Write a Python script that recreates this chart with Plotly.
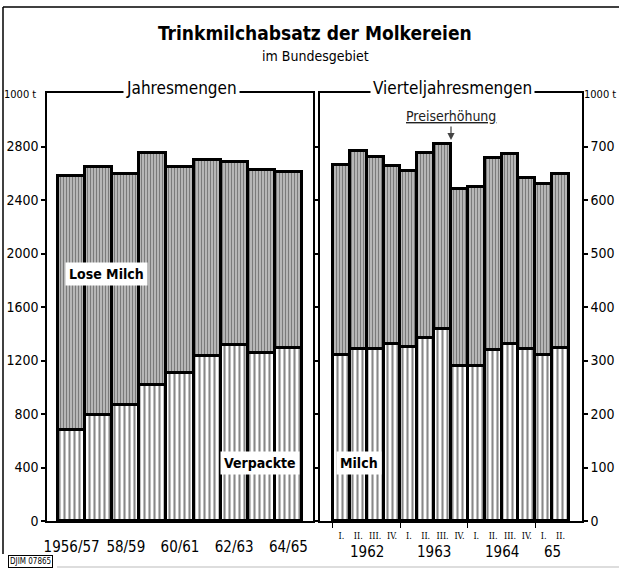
import plotly.graph_objects as go

# ---------------- data ----------------
years = ["1956/57", "1957/58", "1958/59", "1959/60", "1960/61",
         "1961/62", "1962/63", "1963/64", "1964/65"]
year_ticktext = ["1956/57", "58/59", "60/61", "62/63", "64/65"]
annual_packed = [680, 795, 865, 1020, 1110, 1235, 1315, 1255, 1290]
annual_loose = [1900, 1855, 1730, 1730, 1535, 1465, 1370, 1370, 1320]

quarters = ["I.", "II.", "III.", "IV.", "I.", "II.", "III.", "IV.",
            "I.", "II.", "III.", "IV.", "I.", "II."]
quarter_years = ["1962", "1963", "1964", "65"]
quarterly_packed = [311, 322, 322, 331, 326, 342, 358, 289, 289, 319, 330, 321, 310, 324]
quarterly_loose = [355, 369, 358, 333, 329, 346, 346, 332, 335, 360, 356, 320, 319, 325]

left_ticks = [0, 400, 800, 1200, 1600, 2000, 2400, 2800]
right_ticks = [0, 100, 200, 300, 400, 500, 600, 700]

FONT = "DejaVu Sans Condensed, DejaVu Sans, sans-serif"
W, H = 619, 569


def px(x):
    return x / W


def py(y):
    return 1 - y / H


packed_pattern = dict(shape="|", size=5, solidity=0.42, fgcolor="#111", bgcolor="white")
loose_pattern = dict(shape="|", size=3, solidity=0.36, fgcolor="#3c3c3c", bgcolor="#b8b8b8")
outline = dict(color="black", width=3)

xa = list(range(len(years)))
xq = list(range(len(quarters)))

fig = go.Figure()
fig.add_bar(x=xa, y=annual_packed, xaxis="x", yaxis="y",
            marker=dict(pattern=packed_pattern, line=outline, color="white"),
            name="Verpackte Milch")
fig.add_bar(x=xa, y=annual_loose, xaxis="x", yaxis="y",
            marker=dict(pattern=loose_pattern, line=outline, color="#b8b8b8"),
            name="Lose Milch")
fig.add_bar(x=xq, y=quarterly_packed, xaxis="x2", yaxis="y2",
            marker=dict(pattern=packed_pattern, line=outline, color="white"),
            name="Verpackte Milch")
fig.add_bar(x=xq, y=quarterly_loose, xaxis="x2", yaxis="y2",
            marker=dict(pattern=loose_pattern, line=outline, color="#b8b8b8"),
            name="Lose Milch")

ydom = [py(521), py(93)]
line_common = dict(showline=True, linecolor="black", linewidth=1.5,
                   showgrid=False, zeroline=False, automargin=False)

fig.update_layout(
    width=W, height=H,
    margin=dict(l=0, r=0, t=0, b=0),
    paper_bgcolor="white", plot_bgcolor="white",
    barmode="stack", bargap=0,
    showlegend=False,
    font=dict(family=FONT, color="black"),
    xaxis=dict(domain=[px(47), px(313)], range=[-0.91, 8.91],
               tickvals=[0, 2, 4, 6, 8], ticktext=year_ticktext, ticks="",
               tickfont=dict(size=15), ticklabelstandoff=11, mirror=True,
               anchor="y", **line_common),
    yaxis=dict(domain=ydom, range=[0, 3200], tickvals=left_ticks,
               ticks="outside", ticklen=4, tickwidth=1.5, tickcolor="black",
               tickfont=dict(size=14), anchor="x", mirror="ticks", **line_common),
    xaxis2=dict(domain=[px(320), px(582)], range=[-1.27, 14.27],
                tickvals=xq, ticktext=quarters, ticks="",
                tickfont=dict(size=9, family="DejaVu Serif Condensed, DejaVu Serif, serif"),
                ticklabelstandoff=5,
                minor=dict(tick0=-0.5, dtick=4, ticks="outside", ticklen=5,
                           tickcolor="black", tickwidth=1.2),
                anchor="y2", mirror=True, **line_common),
    yaxis2=dict(domain=ydom, range=[0, 800], tickvals=right_ticks, side="right",
                ticks="outside", ticklen=4, tickwidth=1.5, tickcolor="black",
                tickfont=dict(size=14), anchor="x2", mirror="ticks", **line_common),
)


def note(text, x, y, size, xref="paper", yref="paper", **kw):
    d = dict(text=text, x=x, y=y, xref=xref, yref=yref, showarrow=False,
             xanchor="center", yanchor="middle", font=dict(size=size))
    d.update(kw)
    return d


ann = []
ann.append(note("<b>Trinkmilchabsatz der Molkereien</b>", px(315), py(33), 19))
ann.append(note("im Bundesgebiet", px(315), py(56), 14))
ann.append(note("Jahresmengen", px(181), py(88), 17, bgcolor="white", borderpad=2))
ann.append(note("Vierteljahresmengen", px(452), py(88), 17, bgcolor="white", borderpad=2))
ann.append(note("1000 t", px(20), py(94), 11))
ann.append(note("1000 t", px(600), py(94), 11))
ann.append(note("<b>Lose Milch</b>", px(106), py(274), 14, bgcolor="white", borderpad=3))
ann.append(note("<b>Verpackte</b>", px(260), py(463), 14, bgcolor="white", borderpad=3))
ann.append(note("<b>Milch</b>", px(359), py(463), 14, bgcolor="white", borderpad=3))
ann.append(note("<u>Preiserhöhung</u>", px(451), py(116), 14, font=dict(size=14, color="#222")))
ann.append(dict(text="", x=6.5, y=712, xref="x2", yref="y2", ax=6.5, ay=740,
                axref="x2", ayref="y2", showarrow=True, arrowhead=2, arrowsize=1.2,
                arrowwidth=1.2, arrowcolor="#444"))
for pos, lab in zip([1.5, 5.5, 9.5, 12.5], quarter_years):
    ann.append(note(lab, pos, py(552), 15, xref="x2"))
ann.append(note("DJIM 07865", px(30), py(561), 8, bordercolor="black", borderwidth=1,
                borderpad=1, bgcolor="white"))
fig.update_layout(annotations=ann)

# outer frame
fig.add_shape(type="line", xref="paper", yref="paper", x0=px(3), x1=px(3), y0=py(7), y1=py(554),
              line=dict(color="black", width=1.5))
fig.add_shape(type="line", xref="paper", yref="paper", x0=px(3), x1=1, y0=py(7), y1=py(7),
              line=dict(color="black", width=1.5))
fig.add_shape(type="line", xref="paper", yref="paper", x0=px(57), x1=1, y0=py(567), y1=py(567),
              line=dict(color="#bbb", width=1))

fig.write_html("out.html", config={"displayModeBar": False},
               post_script="document.body.style.margin='0';document.body.style.overflow='hidden';")
